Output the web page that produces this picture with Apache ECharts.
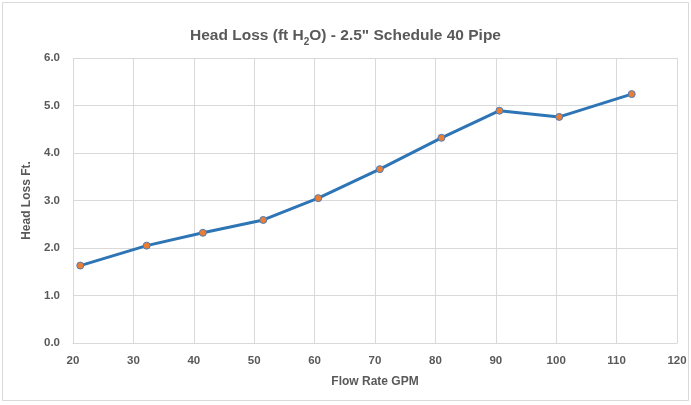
<!DOCTYPE html>
<html><head><meta charset="utf-8">
<script src="https://cdn.jsdelivr.net/npm/echarts@6/dist/echarts.min.js"></script>
<style>html,body{margin:0;padding:0;background:#fff}#c{width:691px;height:405px}</style>
</head><body><div id="c"></div>
<script>
const flowGPM = [21.2, 32.2, 41.5, 51.5, 60.6, 70.8, 81.0, 90.6, 100.5, 112.5];
const headLossFt = [1.63, 2.05, 2.32, 2.59, 3.05, 3.66, 4.32, 4.89, 4.76, 5.24];
const xTicks = [20, 30, 40, 50, 60, 70, 80, 90, 100, 110, 120];
const yTicks = [0, 1, 2, 3, 4, 5, 6];

const chart = echarts.init(document.getElementById('c'), null, {renderer: 'canvas'});
const font = '"Liberation Sans", Arial, sans-serif';
chart.setOption({
  animation: false,
  backgroundColor: '#fff',
  graphic: [{type: 'rect', shape: {x: 2.5, y: 2.5, width: 686, height: 398}, style: {fill: 'none', stroke: '#d9d9d9', lineWidth: 1}}],
  title: {
    text: '{a|Head Loss (ft H}{s|2}{a|O) - 2.5" Schedule 40 Pipe}',
    left: 'center', top: 23,
    textStyle: {
      rich: {
        a: {fontFamily: font, fontSize: 15.5, fontWeight: 'bold', color: '#595959', lineHeight: 19, verticalAlign: 'top'},
        s: {fontFamily: font, fontSize: 10, fontWeight: 'bold', color: '#595959', verticalAlign: 'bottom', lineHeight: 10, padding: [9, 0, 0, 0]}
      }
    }
  },
  grid: {left: 73, right: 14, top: 58, bottom: 62},
  xAxis: {
    type: 'value', min: xTicks[0], max: xTicks[xTicks.length - 1], interval: 10,
    name: 'Flow Rate GPM', nameLocation: 'middle', nameGap: 33,
    nameTextStyle: {fontFamily: font, fontSize: 12, fontWeight: 'bold', color: '#595959'},
    axisLine: {show: true, lineStyle: {color: '#d9d9d9'}},
    axisTick: {show: false},
    axisLabel: {fontFamily: font, fontSize: 11.5, fontWeight: 'bold', color: '#595959', margin: 12},
    splitLine: {show: true, lineStyle: {color: '#d9d9d9', width: 1}}
  },
  yAxis: {
    type: 'value', min: yTicks[0], max: yTicks[yTicks.length - 1], interval: 1,
    name: 'Head Loss Ft.', nameLocation: 'middle', nameGap: 32, nameRotate: 90,
    nameTextStyle: {fontFamily: font, fontSize: 12, fontWeight: 'bold', color: '#595959'},
    axisLine: {show: false},
    axisTick: {show: false},
    axisLabel: {fontFamily: font, fontSize: 11.5, fontWeight: 'bold', color: '#595959', margin: 13,
      formatter: v => v.toFixed(1)},
    splitLine: {show: true, lineStyle: {color: '#d9d9d9', width: 1}}
  },
  series: [{
    type: 'line',
    data: flowGPM.map((x, i) => [x, headLossFt[i]]),
    lineStyle: {color: '#2E75B6', width: 3},
    symbol: 'circle', symbolSize: 7,
    itemStyle: {color: '#ED7D31', borderColor: '#4A7EBB', borderWidth: 1}
  }]
});
</script></body></html>
